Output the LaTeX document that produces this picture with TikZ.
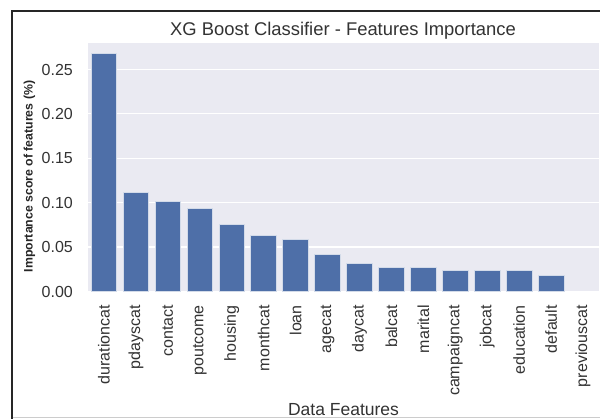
\documentclass[tikz,border=0pt]{standalone}
\usepackage{fontspec}
\setmainfont{Liberation Sans}
\definecolor{barblue}{HTML}{4E6FA8}
\definecolor{panel}{HTML}{EAEAF2}
\definecolor{txt}{HTML}{333333}
\begin{document}
\begin{tikzpicture}[x=1pt,y=-1pt,
  bar/.style={fill=barblue,draw=white!75!barblue,line width=0.8pt},
  grid line/.style={draw=white,line width=1.2pt},
  ticklab/.style={font=\fontsize{16}{17}\selectfont,text=txt,inner sep=0pt},
  xticklab/.style={ticklab,rotate=90,anchor=east},
  yticklab/.style={ticklab,anchor=east},
  axislab/.style={font=\fontsize{17.5}{18}\selectfont,text=txt,inner sep=0pt},
  ylab/.style={font=\bfseries\fontsize{12.3}{13}\selectfont,text=black!85,inner sep=0pt,rotate=90},
  titlelab/.style={font=\fontsize{18.4}{19}\selectfont,text=txt,inner sep=0pt}]
\useasboundingbox (0,0) rectangle (600,419);
\fill[white] (0,0) rectangle (600,419);
% frame around the figure
\draw[black!85,line width=2pt] (12,421) -- (12,11.5) -- (602,11.5);
\draw[black!20,line width=0.8pt] (13,417.6) -- (600,417.6);
% plotting panel
\fill[panel] (88,43) rectangle (599,291.5);
\foreach \v in {0.05,0.10,0.15,0.20,0.25}{
  \draw[grid line] (88,{291.5-\v*888}) -- (599,{291.5-\v*888});
}
\foreach \v/\t [count=\k] in {0/0.00,0.05/0.05,0.10/0.10,0.15/0.15,0.20/0.20,0.25/0.25}{
  \node[yticklab] (ytick\k) at (73,{291.5-\v*888}) {\t};
}
% bars, sorted by importance
\foreach \v/\name [count=\i from 0] in {
  0.268/durationcat,0.112/pdayscat,0.101/contact,0.094/poutcome,
  0.076/housing,0.063/monthcat,0.059/loan,0.042/agecat,0.032/daycat,
  0.027/balcat,0.027/marital,0.024/campaigncat,0.024/jobcat,
  0.024/education,0.018/default,0/previouscat}{
  \pgfmathsetmacro{\xl}{88+\i*31.94+3.19}
  \pgfmathsetmacro{\xc}{88+\i*31.94+15.97}
  \ifdim\v pt>0pt
    \draw[bar] (\xl,291.5) rectangle ++(25.55,{-\v*888});
  \fi
  \coordinate (bar\i) at (\xc,291.5);
  \node[xticklab] (xtick\i) at (\xc,305) {\name};
}
\node[axislab] (xlabel) at (343.5,410) {Data Features};
\node[ylab] (ylabel) at (29.5,176.5) {Importance score of features (\%)};
\node[titlelab] (title) at (343,30.5) {XG Boost Classifier - Features Importance};
\end{tikzpicture}
\end{document}
